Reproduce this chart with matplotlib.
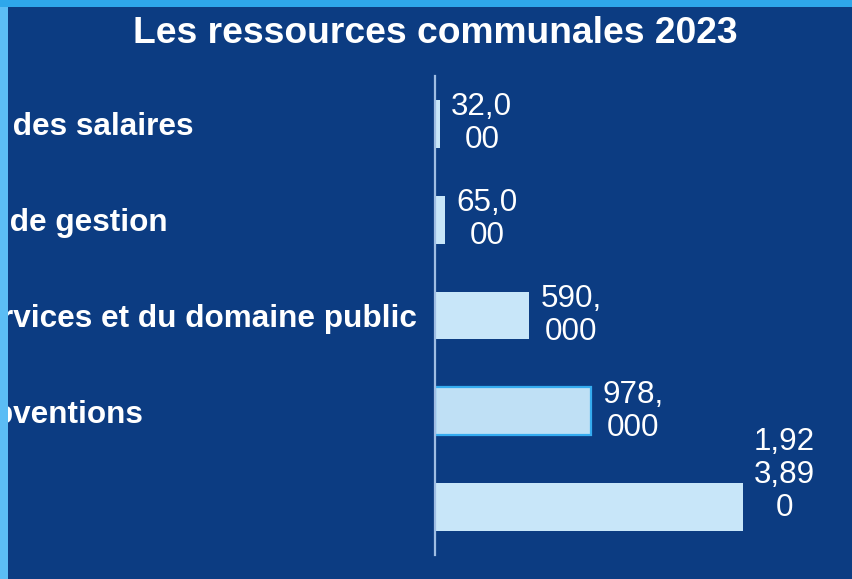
import textwrap
import matplotlib.pyplot as plt
from matplotlib.patches import Rectangle

categories = [
    "Taxe sur le total des salaires",
    "Autres produits de gestion",
    "Produits des services et du domaine public",
    "Dotations et subventions",
    "Impôts et taxes",
]
values = [32000, 65000, 590000, 978000, 1923890]
highlight = 3

bg = "#0c3c82"
bar_color = "#c8e6f9"

plt.rcParams["font.family"] = ["Liberation Sans", "DejaVu Sans"]

fig = plt.figure(figsize=(8.52, 5.79), dpi=100, facecolor=bg)
ax = fig.add_axes([435 / 852, 24 / 579, 384 / 852, 479 / 579])
ax.set_facecolor(bg)

ypos = list(range(len(categories)))
bars = ax.barh(ypos, values, height=0.5, color=bar_color, zorder=2)
bars[highlight].set_facecolor("#bfe0f5")
bars[highlight].set_edgecolor("#35acf0")
bars[highlight].set_linewidth(1.6)

ax.set_ylim(len(categories) - 0.5, -0.5)
ax.set_xlim(0, 2400000)

for s in ["top", "right", "bottom"]:
    ax.spines[s].set_visible(False)
ax.spines["left"].set_color("#9fbde3")
ax.spines["left"].set_linewidth(1.6)
ax.set_xticks([])

# long category names start far left and run off the canvas edge
ax.set_yticks(ypos)
ax.set_yticklabels(categories, ha="left", fontsize=22.7, fontweight="bold",
                   color="white")
ax.tick_params(axis="y", length=0, pad=482)

# value labels wrapped to 4 characters per line
for y, v in zip(ypos, values):
    lines = textwrap.wrap(f"{v:,}", 4)
    ax.annotate("\n".join(lines), xy=(v, y), xytext=(8, 23 * (len(lines) - 2)),
                textcoords="offset points", ha="left", va="center",
                multialignment="center", fontsize=22.6, color="white",
                linespacing=1.13, zorder=3)

fig.text(435 / 852, 1 - 43 / 579, "Les ressources communales 2023",
         ha="center", va="baseline", fontsize=26.8, fontweight="bold",
         color="white")

fig.patches.append(Rectangle((0, 0), 8 / 852, 1 - 7 / 579, transform=fig.transFigure,
                             facecolor="#5bbdf5", edgecolor="none", zorder=10))
fig.patches.append(Rectangle((0, 1 - 7 / 579), 1, 7 / 579, transform=fig.transFigure,
                             facecolor="#2ea7eb", edgecolor="none", zorder=10))

fig.savefig("out.png", dpi=100, facecolor=bg)
